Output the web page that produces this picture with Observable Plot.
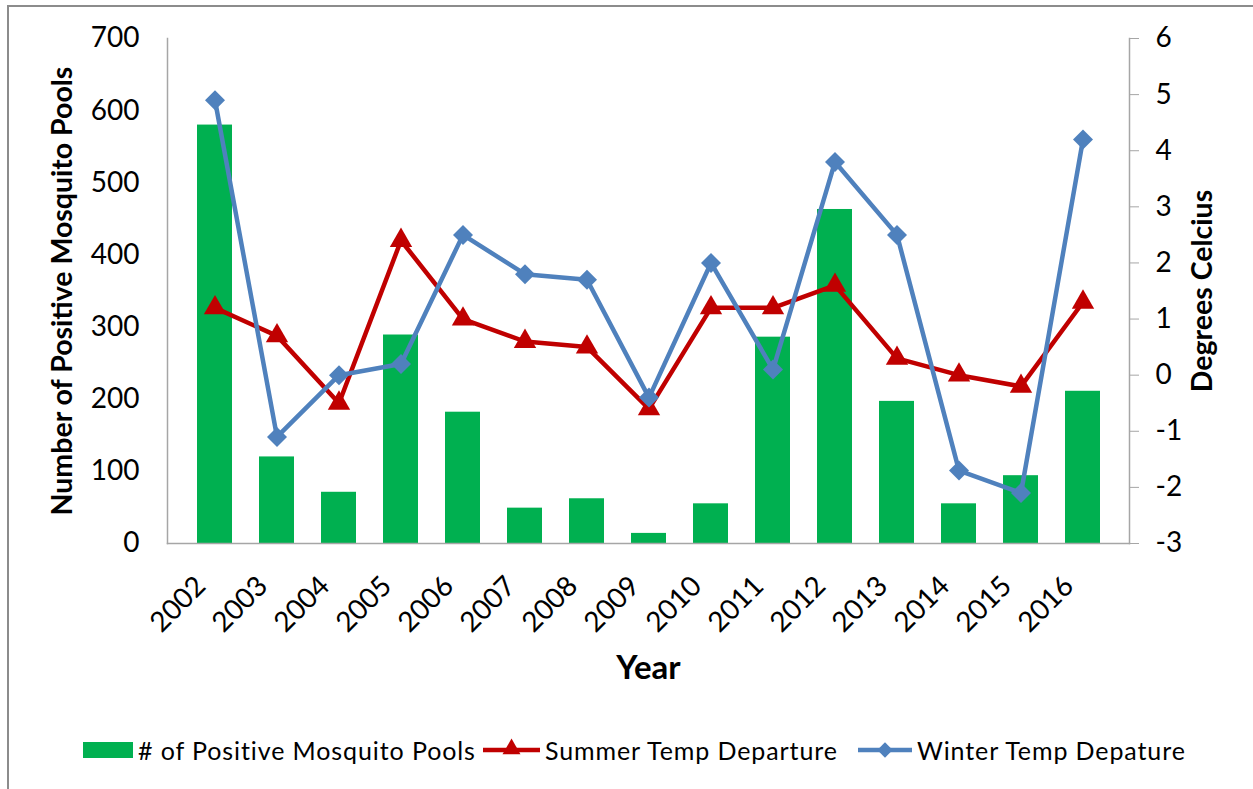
<!DOCTYPE html>
<html>
<head>
<meta charset="utf-8">
<script src="https://cdn.jsdelivr.net/npm/d3@7"></script>
<script src="https://cdn.jsdelivr.net/npm/@observablehq/plot@0.6"></script>
<style>
  html, body { margin: 0; padding: 0; background: #fff; }
  body { width: 1253px; height: 789px; position: relative; overflow: hidden; font-family: Lato, "Open Sans", sans-serif; }
  #frame { position: absolute; left: 7px; top: 5px; width: 1300px; height: 900px; border: 2px solid #8c8c8c; box-sizing: border-box; }
  #chart { position: absolute; left: 0; top: 0; }
  #legend { position: absolute; top: 733px; left: 0; width: 1253px; height: 34px; font-size: 25px; color: #000; white-space: nowrap; }
  #legend .item { position: absolute; top: 0; display: flex; align-items: center; height: 34px; }
  #legend svg { margin-right: 5px; display: block; }
  #legend span { letter-spacing: 0.9px; }
</style>
</head>
<body>
<div id="frame"></div>
<div id="chart"></div>
<div id="legend"></div>
<script>
const years = ["2002","2003","2004","2005","2006","2007","2008","2009","2010","2011","2012","2013","2014","2015","2016"];
const pools = [580, 120, 71, 289, 182, 49, 62, 14, 55, 286, 463, 197, 55, 94, 211];
const summerTemp = [1.2, 0.7, -0.5, 2.4, 1.0, 0.6, 0.5, -0.6, 1.2, 1.2, 1.6, 0.3, 0.0, -0.2, 1.3];
const winterTemp = [4.9, -1.1, 0.0, 0.2, 2.5, 1.8, 1.7, -0.4, 2.0, 0.1, 3.8, 2.5, -1.7, -2.1, 4.2];
const tempTicks = [-3, -2, -1, 0, 1, 2, 3, 4, 5, 6];
const leftTicks = [0, 100, 200, 300, 400, 500, 600, 700];

const seriesNames = ["# of Positive Mosquito Pools", "Summer Temp Departure", "Winter Temp Depature"];
const colors = ["#00B050", "#C00000", "#4F81BD"];

// map temperature domain [-3, 6] onto left domain [0, 700]
const tMin = -3, tMax = 6, pMax = 700;
const toLeft = t => (t - tMin) * pMax / (tMax - tMin);
const fromLeft = v => v * (tMax - tMin) / pMax + tMin;

const data = years.map((y, i) => ({year: y, pools: pools[i], summer: toLeft(summerTemp[i]), winter: toLeft(winterTemp[i])}));

const font = "Lato, 'Open Sans', sans-serif";
const chart = Plot.plot({
  width: 1253,
  height: 720,
  marginLeft: 167,
  marginRight: 124,
  marginTop: 38,
  marginBottom: 177,
  style: {fontFamily: font, fontSize: "28px", color: "#000", background: "transparent", overflow: "visible"},
  x: {domain: years, padding: 0.44, label: null},
  y: {domain: [0, pMax], label: null},
  marks: [
    Plot.barY(data, {x: "year", y: "pools", fill: colors[0]}),
    Plot.frame({anchor: "left", stroke: "#a6a6a6", strokeWidth: 1.5}),
    Plot.frame({anchor: "bottom", stroke: "#a6a6a6", strokeWidth: 1.5}),
    Plot.frame({anchor: "right", stroke: "#a6a6a6", strokeWidth: 1.5}),
    Plot.axisY({anchor: "left", ticks: leftTicks, tickSize: 0, tickPadding: 28, label: null}),
    Plot.axisY({anchor: "right", ticks: tempTicks.map(toLeft), tickFormat: v => String(Math.round(fromLeft(v))), tickSize: 9, tickPadding: 17, stroke: "#a6a6a6", label: null}),
    Plot.axisX({anchor: "bottom", tickSize: 0, tickRotate: -45, tickPadding: 38, dx: -14, label: null}),
    Plot.line(data, {x: "year", y: "summer", stroke: colors[1], strokeWidth: 4.5}),
    Plot.dot(data, {x: "year", y: "summer", symbol: "triangle", r: 8.3, fill: colors[1], stroke: null}),
    Plot.line(data, {x: "year", y: "winter", stroke: colors[2], strokeWidth: 4.5}),
    Plot.dot(data, {x: "year", y: "winter", symbol: "diamond2", r: 9, fill: colors[2], stroke: null}),
    Plot.text(["Number of Positive Mosquito Pools"], {frameAnchor: "left", textAnchor: "middle", lineAnchor: "middle", dx: -105, rotate: -90, fontWeight: "bold", fontSize: 28.5, text: d => d}),
    Plot.text(["Degrees Celcius"], {frameAnchor: "right", textAnchor: "middle", lineAnchor: "middle", dx: 73, rotate: -90, fontWeight: "bold", fontSize: 28.5, text: d => d}),
    Plot.text(["Year"], {frameAnchor: "bottom", textAnchor: "middle", lineAnchor: "middle", dy: 125, fontWeight: "bold", fontSize: 33, text: d => d})
  ]
});
document.getElementById("chart").appendChild(chart);

// legend
const legend = document.getElementById("legend");
const itemLeft = [83, 483, 858];
const swatches = [
  `<svg width="50" height="34"><rect x="0" y="9" width="50" height="16" fill="${colors[0]}"/></svg>`,
  `<svg width="57" height="34"><line x1="0" y1="17" x2="57" y2="17" stroke="${colors[1]}" stroke-width="4.5"/><path transform="translate(28.5,16)" d="${d3.symbol(d3.symbolTriangle, 140)()}" fill="${colors[1]}"/></svg>`,
  `<svg width="54" height="34"><line x1="0" y1="17" x2="54" y2="17" stroke="${colors[2]}" stroke-width="4.5"/><path transform="translate(27,17)" d="${d3.symbol(d3.symbolDiamond2, 150)()}" fill="${colors[2]}"/></svg>`
];
seriesNames.forEach((name, i) => {
  const item = document.createElement("div");
  item.className = "item";
  item.style.left = itemLeft[i] + "px";
  item.innerHTML = swatches[i] + `<span>${name}</span>`;
  legend.appendChild(item);
});
</script>
</body>
</html>
